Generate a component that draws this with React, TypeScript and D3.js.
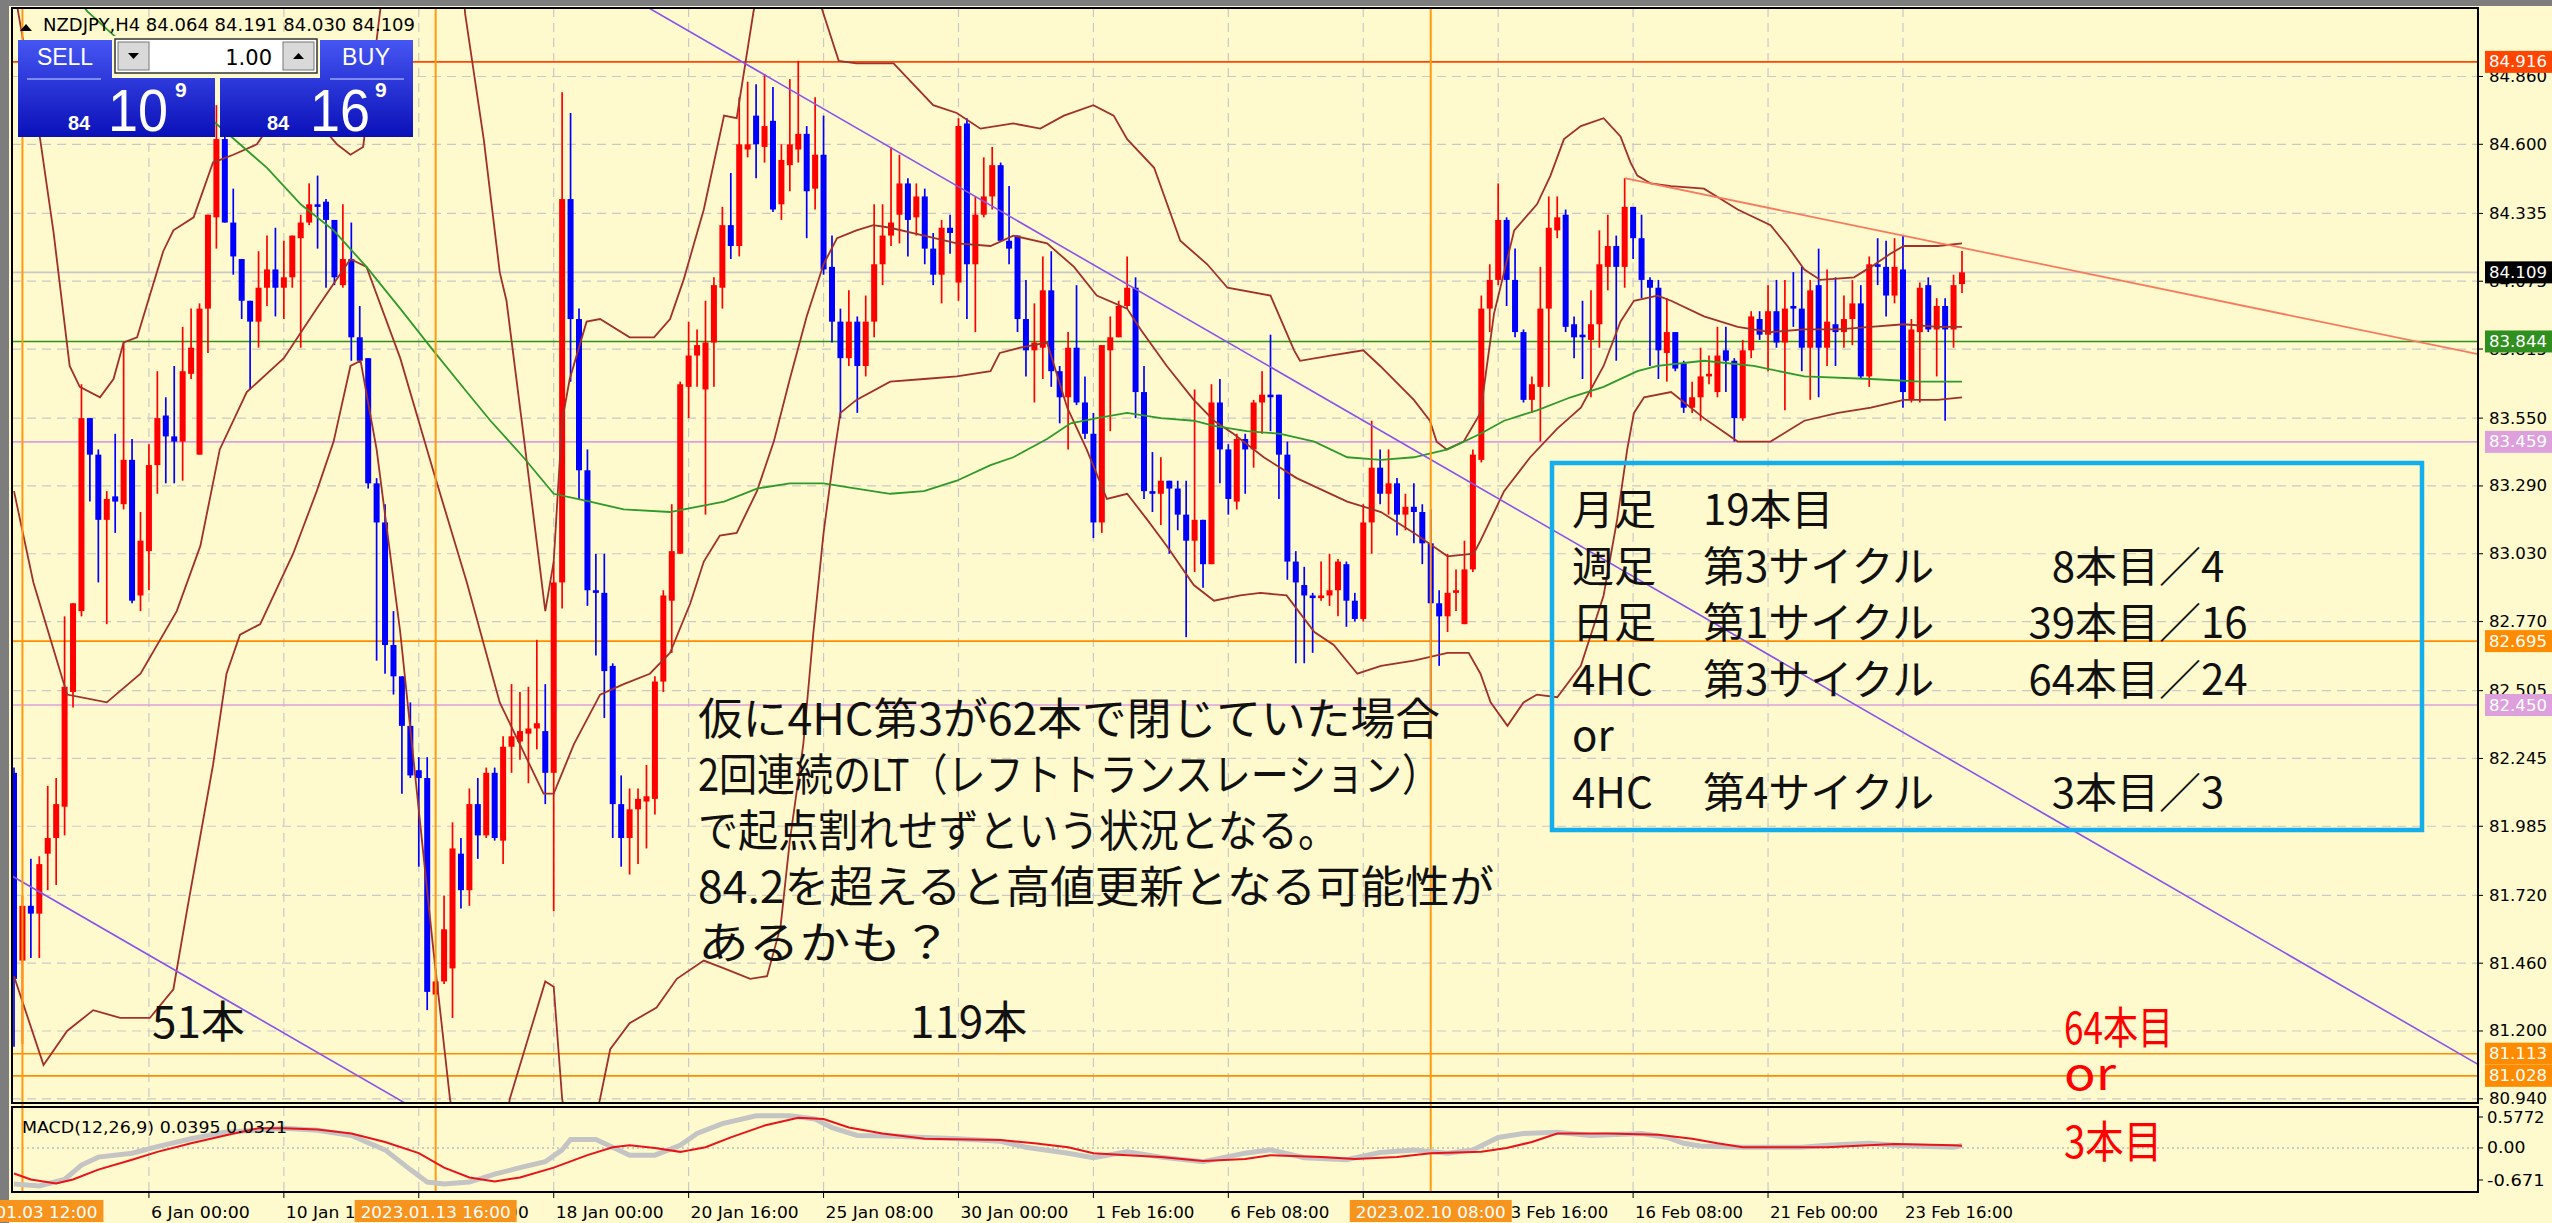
import React, { useRef, useEffect } from "react";
import * as d3 from "d3";

const W = 2552;
const H = 1223;

// NZDJPY H4 bars, left to right
const opens = [
  82.19, 81.47, 81.68, 81.65, 81.88, 81.94, 82.06, 82.5, 82.81, 83.55,
  83.41, 83.16, 83.25, 83.22, 83.39, 82.87, 83.04, 83.37, 83.56, 83.48,
  83.46, 83.72, 83.41, 83.97, 84.32, 84.62, 84.3, 84.16, 84.0, 83.92,
  84.05, 84.12, 84.05, 84.09, 84.24, 84.3, 84.37, 84.38, 84.31, 84.06,
  84.16, 83.86, 83.78, 83.3, 83.15, 82.68, 82.56, 82.37, 82.2, 82.17,
  81.34, 81.39, 81.44, 81.88, 81.74, 82.07, 81.95, 82.19, 81.93, 82.29,
  82.31, 82.34, 82.36, 82.35, 82.19, 82.92, 84.39, 83.93, 83.35, 82.89,
  82.88, 82.6, 82.07, 81.94, 82.05, 82.08, 82.09, 82.54, 82.85, 83.03,
  83.67, 83.79, 83.66, 83.84, 84.05, 84.29, 84.21, 84.58, 84.71, 84.59,
  84.69, 84.37, 84.52, 84.58, 84.64, 84.43, 84.56, 84.13, 83.92, 83.78,
  83.92, 83.75, 83.92, 84.14, 84.25, 84.33, 84.45, 84.32, 84.4, 84.2,
  84.1, 84.28, 84.07, 84.68, 84.14, 84.33, 84.4, 84.52, 84.23, 84.25,
  83.93, 83.81, 83.82, 84.04, 83.73, 83.63, 83.82, 83.61, 83.49, 83.15,
  83.81, 83.86, 83.98, 84.05, 83.65, 83.27, 83.26, 83.31, 83.28, 83.18,
  83.08, 83.16, 82.99, 83.61, 83.43, 83.23, 83.47, 83.43, 83.61, 83.64,
  83.64, 83.41, 83.0, 82.91, 82.87, 82.86, 82.87, 82.89, 82.99, 82.85,
  82.78, 83.15, 83.36, 83.26, 83.3, 83.18, 83.21, 83.19, 83.07, 82.84,
  82.79, 82.88, 82.76, 82.97, 83.39, 83.97, 84.08, 84.31, 84.08, 83.88,
  83.62, 83.67, 83.97, 84.27, 84.33, 83.91, 83.87, 83.85, 83.91, 84.13,
  84.21, 84.13, 84.36, 84.24, 84.08, 84.05, 83.8, 83.88, 83.76, 83.59,
  83.63, 83.71, 83.65, 83.81, 83.77, 83.55, 83.81, 83.93, 83.87, 83.96,
  83.84, 83.98, 83.97, 83.82, 84.06, 83.82, 83.91, 83.88, 83.93, 83.99,
  83.71, 84.14, 84.13, 84.02, 84.12, 83.62, 83.88, 84.06, 83.89, 83.98,
  83.89, 84.064,
];
const highs = [
  82.21, 81.72, 81.86, 81.87, 82.14, 82.17, 82.79, 82.84, 83.68, 83.55,
  83.43, 83.27, 83.49, 83.84, 83.47, 83.19, 83.45, 83.73, 83.63, 83.75,
  83.9, 83.97, 83.99, 84.33, 84.75, 84.66, 84.43, 84.16, 84.0, 84.19,
  84.25, 84.28, 84.23, 84.25, 84.33, 84.45, 84.48, 84.39, 84.31, 84.37,
  84.3, 83.98, 83.78, 83.32, 83.22, 82.81, 82.56, 82.46, 82.25, 82.25,
  81.44, 81.72, 82.0, 81.94, 82.13, 82.17, 82.21, 82.21, 82.33, 82.53,
  82.5, 82.52, 82.7, 82.53, 83.0, 84.8, 84.72, 83.97, 83.43, 83.03,
  83.03, 82.61, 82.18, 82.13, 82.13, 82.22, 82.56, 82.89, 83.22, 83.69,
  83.92, 83.89, 84.0, 84.09, 84.36, 84.49, 84.78, 84.84, 84.83, 84.87,
  84.82, 84.6, 84.85, 84.92, 84.67, 84.78, 84.71, 84.25, 83.97, 84.04,
  83.94, 84.02, 84.37, 84.37, 84.59, 84.56, 84.47, 84.45, 84.43, 84.26,
  84.31, 84.33, 84.7, 84.7, 84.4, 84.55, 84.59, 84.53, 84.44, 84.25,
  84.08, 83.99, 84.17, 84.19, 83.75, 83.88, 84.06, 83.71, 83.57, 83.83,
  83.94, 84.0, 84.17, 84.09, 83.75, 83.42, 83.4, 83.31, 83.31, 83.31,
  83.66, 83.16, 83.68, 83.7, 83.45, 83.49, 83.49, 83.62, 83.73, 83.87,
  83.64, 83.46, 83.04, 82.98, 82.88, 83.0, 83.03, 83.01, 83.0, 82.88,
  83.22, 83.54, 83.43, 83.43, 83.32, 83.26, 83.3, 83.22, 83.2, 82.89,
  83.03, 82.97, 83.08, 83.43, 84.02, 84.14, 84.45, 84.32, 84.2, 83.89,
  83.71, 84.13, 84.4, 84.4, 84.35, 83.94, 84.0, 84.04, 84.27, 84.33,
  84.25, 84.47, 84.36, 84.33, 84.09, 84.08, 84.01, 83.88, 83.77, 83.69,
  83.82, 83.79, 83.9, 83.9, 83.78, 83.85, 83.96, 83.96, 84.06, 84.08,
  84.08, 84.11, 84.13, 84.08, 84.2, 84.12, 84.09, 84.02, 84.08, 84.06,
  84.17, 84.24, 84.23, 84.24, 84.25, 83.93, 84.07, 84.09, 84.01, 84.01,
  84.1, 84.191,
];
const lows = [
  81.14, 81.15, 81.48, 81.48, 81.74, 81.76, 81.95, 82.44, 82.79, 83.23,
  82.92, 82.76, 83.11, 83.2, 82.84, 82.81, 82.89, 83.26, 83.3, 83.3,
  83.31, 83.7, 83.41, 83.8, 84.2, 84.3, 84.1, 83.93, 83.66, 83.82,
  83.98, 83.94, 83.93, 84.05, 83.82, 84.29, 84.2, 84.05, 84.06, 84.05,
  83.77, 83.77, 83.28, 82.62, 82.57, 82.49, 82.11, 82.17, 81.83, 81.28,
  81.12, 81.38, 81.25, 81.67, 81.68, 81.86, 81.94, 81.93, 81.84, 82.19,
  82.24, 82.15, 82.28, 82.07, 81.66, 82.82, 83.69, 83.24, 82.83, 82.64,
  82.4, 81.94, 81.83, 81.8, 81.84, 81.9, 82.03, 82.5, 82.65, 83.03,
  83.55, 83.67, 83.18, 83.67, 83.97, 84.16, 84.17, 84.55, 84.47, 84.53,
  84.34, 84.31, 84.42, 84.53, 84.24, 84.35, 84.1, 83.84, 83.55, 83.75,
  83.57, 83.71, 83.86, 84.06, 84.21, 84.22, 84.17, 84.25, 84.14, 84.06,
  83.99, 84.18, 84.0, 83.93, 83.88, 84.32, 84.35, 84.23, 84.14, 83.88,
  83.71, 83.61, 83.7, 83.67, 83.53, 83.43, 83.6, 83.47, 83.09, 83.11,
  83.5, 83.86, 83.97, 83.55, 83.24, 83.19, 83.14, 83.03, 83.12, 82.71,
  82.96, 82.9, 82.99, 83.3, 83.18, 83.2, 83.26, 83.36, 83.49, 83.5,
  83.24, 82.93, 82.61, 82.61, 82.65, 82.85, 82.83, 82.79, 82.75, 82.77,
  82.77, 83.03, 83.22, 83.18, 83.1, 83.12, 83.07, 82.99, 82.32, 82.6,
  82.73, 82.81, 82.76, 82.96, 83.38, 83.88, 84.06, 83.98, 83.86, 83.61,
  83.57, 83.46, 83.67, 84.24, 83.88, 83.78, 83.7, 83.63, 83.82, 84.04,
  83.77, 84.05, 84.16, 84.01, 83.75, 83.7, 83.69, 83.73, 83.57, 83.57,
  83.54, 83.68, 83.63, 83.65, 83.46, 83.54, 83.78, 83.85, 83.73, 83.82,
  83.58, 83.9, 83.73, 83.62, 83.63, 83.75, 83.75, 83.82, 83.83, 83.7,
  83.67, 84.06, 83.94, 83.99, 83.59, 83.61, 83.61, 83.88, 83.71, 83.54,
  83.82, 84.03,
];
const closes = [
  81.4, 81.68, 81.65, 81.84, 81.94, 82.07, 82.52, 82.84, 83.55, 83.41,
  83.16, 83.24, 83.23, 83.39, 82.85, 83.08, 83.37, 83.55, 83.48, 83.46,
  83.73, 83.82, 83.97, 84.33, 84.62, 84.3, 84.17, 84.0, 83.92, 84.05,
  84.12, 84.05, 84.09, 84.25, 84.3, 84.37, 84.36, 84.31, 84.09, 84.16,
  83.86, 83.77, 83.3, 83.15, 82.68, 82.56, 82.37, 82.18, 82.17, 81.35,
  81.39, 81.59, 81.9, 81.74, 82.07, 81.95, 82.19, 81.94, 82.29, 82.33,
  82.35, 82.36, 82.38, 82.19, 82.92, 84.39, 83.93, 83.35, 82.89, 82.88,
  82.58, 82.07, 81.94, 82.05, 82.09, 82.1, 82.54, 82.87, 83.04, 83.68,
  83.79, 83.83, 83.84, 84.06, 84.29, 84.21, 84.6, 84.6, 84.6, 84.67,
  84.35, 84.54, 84.6, 84.64, 84.42, 84.56, 84.12, 83.92, 83.78, 83.92,
  83.75, 83.92, 84.14, 84.25, 84.3, 84.45, 84.31, 84.4, 84.2, 84.1,
  84.28, 84.26, 84.67, 84.14, 84.33, 84.4, 84.52, 84.23, 84.2, 83.93,
  83.81, 83.84, 84.04, 83.73, 83.63, 83.82, 83.61, 83.49, 83.15, 83.83,
  83.86, 83.98, 84.05, 83.65, 83.27, 83.26, 83.31, 83.28, 83.18, 83.08,
  83.16, 82.99, 83.61, 83.43, 83.24, 83.47, 83.43, 83.61, 83.64, 83.63,
  83.41, 83.0, 82.92, 82.87, 82.86, 82.87, 82.89, 83.0, 82.85, 82.78,
  83.15, 83.36, 83.26, 83.3, 83.18, 83.21, 83.19, 83.07, 82.84, 82.79,
  82.88, 82.89, 82.97, 83.41, 83.97, 84.08, 84.31, 84.08, 83.88, 83.62,
  83.68, 83.97, 84.28, 84.32, 83.9, 83.86, 83.86, 83.91, 84.14, 84.21,
  84.13, 84.36, 84.24, 84.08, 84.05, 83.81, 83.88, 83.74, 83.59, 83.63,
  83.71, 83.72, 83.79, 83.77, 83.55, 83.81, 83.94, 83.87, 83.96, 83.84,
  83.97, 83.97, 83.82, 84.04, 83.82, 83.92, 83.88, 83.93, 83.99, 83.71,
  84.14, 84.13, 84.02, 84.13, 83.65, 83.89, 84.05, 83.89, 83.98, 83.89,
  84.06, 84.109,
];

// indicator lines as [bar, value]
const bbUpper = [
  [0, 85.2], [3.1, 84.62], [4.7, 84.26], [6.6, 83.75], [7.8, 83.67], [10.2, 83.63], [11.8, 83.7],
  [13, 83.84], [14.6, 83.86], [16.1, 84.02], [17.7, 84.19], [18.9, 84.27], [21.3, 84.32],
  [23.6, 84.53], [26, 84.56], [28.8, 84.6], [33, 84.8], [38.3, 84.6], [39.9, 84.56], [41.4, 84.59],
  [43, 85.0], [46, 85.8], [50, 86.0], [52.5, 85.5], [53.5, 85.1], [55.7, 84.62], [57.6, 84.11],
  [58.4, 84.0], [60.4, 83.49], [63, 82.81], [64, 83.0], [65, 83.54], [65.9, 83.7], [67.9, 83.92],
  [69.5, 83.93], [73, 83.86], [75.9, 83.86], [77.8, 83.93], [79.4, 84.08], [81.8, 84.35],
  [84.2, 84.71], [85.7, 84.7], [87.7, 85.11], [90, 85.4], [93, 85.4], [96, 85.1], [97.8, 84.92],
  [99.9, 84.91], [104.3, 84.91], [109, 84.75], [111.8, 84.72], [114.6, 84.66], [118.5, 84.68],
  [121.7, 84.66], [124.5, 84.71], [128, 84.75], [130.4, 84.71], [132, 84.62], [135.2, 84.51],
  [138.3, 84.23], [141.5, 84.14], [143.9, 84.05], [149, 84.02], [151.8, 83.81], [152.5, 83.77],
  [156.1, 83.79], [160, 83.81], [162, 83.75], [166, 83.62], [167.9, 83.54], [168.7, 83.46],
  [169.9, 83.43], [171.9, 83.46], [173.9, 83.57], [175.5, 83.95], [177.9, 84.27], [180.6, 84.37],
  [182.2, 84.48], [183.8, 84.62], [185.8, 84.67], [188.5, 84.7], [190.5, 84.63], [191.7, 84.53],
  [192.5, 84.48], [194.1, 84.45], [196.5, 84.44], [200.4, 84.43], [202.4, 84.39], [204.4, 84.35],
  [208.3, 84.29], [210.3, 84.21], [212.3, 84.12], [214.2, 84.08], [218.2, 84.09], [220.2, 84.13],
  [222.5, 84.18], [224.1, 84.21], [228.1, 84.21], [231, 84.22],
];
const bbMiddle = [
  [0, 83.27], [2.3, 82.92], [6.3, 82.49], [11, 82.46], [15, 82.57], [19.3, 82.81], [22.1, 83.06],
  [24.4, 83.43], [27.6, 83.65], [32, 83.78], [35.9, 83.97], [39.9, 84.16], [41.8, 84.13],
  [45.8, 83.78], [49.7, 83.35], [53.7, 82.92], [57.6, 82.46], [62.8, 82.11], [64, 82.11],
  [66.4, 82.3], [69.5, 82.49], [72.3, 82.53], [75.4, 82.57], [77.8, 82.65], [80.2, 82.84],
  [81.8, 83.0], [83.7, 83.1], [85.7, 83.11], [88.1, 83.27], [90.1, 83.46], [92, 83.7], [94, 83.94],
  [96, 84.14], [97.6, 84.24], [99.9, 84.27], [101.9, 84.29], [103.9, 84.28], [107.9, 84.25],
  [111.8, 84.22], [115.8, 84.21], [118.5, 84.25], [122.5, 84.22], [125.7, 84.13], [128.4, 84.02],
  [132, 83.97], [133.6, 83.89], [136.7, 83.75], [139.9, 83.62], [142.3, 83.54], [144.6, 83.49],
  [148.2, 83.4], [152.1, 83.32], [158.1, 83.23], [162.1, 83.19], [166, 83.11], [170, 83.02],
  [173.1, 83.03], [173.9, 83.08], [176.7, 83.27], [179.8, 83.4], [183, 83.51], [185.8, 83.59],
  [188.5, 83.75], [190.5, 83.92], [192.1, 84.0], [194.9, 84.02], [196.5, 84.0], [200.4, 83.94],
  [204.4, 83.9], [208.3, 83.88], [212.3, 83.89], [216.3, 83.89], [220.2, 83.9], [224.1, 83.91],
  [228.1, 83.9], [231, 83.9],
];
const bbLower = [
  [0, 81.41], [3.5, 81.07], [6.3, 81.2], [9.4, 81.28], [12.6, 81.25], [16.1, 81.25], [18.9, 81.36],
  [20.5, 81.66], [23.6, 82.22], [25.2, 82.57], [26.8, 82.72], [29.2, 82.76], [33.1, 83.03],
  [35.9, 83.27], [37.9, 83.46], [39.9, 83.75], [41.1, 83.77], [43, 83.43], [45.8, 82.73],
  [49.7, 81.52], [51.7, 80.94], [54, 80.5], [57, 80.6], [58.8, 80.94], [63, 81.39], [64, 81.37],
  [65, 80.94], [67, 80.6], [69.5, 80.94], [70.7, 81.13], [73, 81.23], [76.2, 81.29], [78.6, 81.4],
  [81.8, 81.47], [84.2, 81.44], [87.3, 81.4], [89.3, 81.41], [90.9, 81.6], [92, 81.93],
  [93.6, 82.3], [94.8, 82.73], [96, 83.11], [97.2, 83.4], [98, 83.57], [99.9, 83.62],
  [103.9, 83.69], [107.9, 83.7], [111.8, 83.71], [115.8, 83.73], [116.9, 83.8], [119.3, 83.82],
  [122.5, 83.84], [124.9, 83.59], [127.2, 83.43], [129.6, 83.24], [132, 83.26], [134.4, 83.16],
  [136.7, 83.06], [139.9, 82.91], [142.3, 82.85], [145.4, 82.87], [147.8, 82.88], [150.9, 82.87],
  [154.2, 82.73], [156.5, 82.68], [159.3, 82.57], [162.1, 82.6], [166, 82.62], [170, 82.65],
  [172.5, 82.65], [173.9, 82.57], [175.1, 82.46], [177.1, 82.37], [179, 82.46], [180.6, 82.49],
  [183, 82.48], [185.8, 82.6], [188.5, 82.87], [190.1, 83.16], [191.3, 83.43], [192.1, 83.57],
  [193.3, 83.63], [196.5, 83.65], [200.4, 83.55], [204.4, 83.46], [208.3, 83.46], [212.3, 83.54],
  [216.3, 83.57], [220.2, 83.59], [224.1, 83.62], [228.1, 83.62], [231, 83.63],
];
const maGreen = [
  [0, 85.45], [8.7, 85.11], [11.4, 85.03], [26.8, 84.6], [30, 84.51], [34, 84.37], [37.9, 84.27],
  [41.8, 84.13], [45.8, 83.97], [49.7, 83.81], [53.7, 83.65], [56.5, 83.54], [60.4, 83.4],
  [64, 83.26], [68.3, 83.23], [72.3, 83.2], [77.8, 83.19], [84.2, 83.23], [88.1, 83.28], [92, 83.3],
  [96, 83.3], [99.9, 83.28], [103.9, 83.26], [107.9, 83.27], [111.8, 83.31], [115.8, 83.37],
  [118.5, 83.4], [122.5, 83.47], [125.3, 83.53], [128.4, 83.55], [132, 83.57], [136, 83.55],
  [139.9, 83.54], [142.3, 83.52], [146.2, 83.5], [150.2, 83.49], [154.2, 83.46], [158.1, 83.4],
  [162.1, 83.39], [166, 83.4], [170, 83.43], [173.9, 83.49], [176.7, 83.54], [180.6, 83.58],
  [184.6, 83.63], [188.5, 83.67], [192.5, 83.73], [194.9, 83.75], [200.4, 83.77], [206.3, 83.75],
  [212.3, 83.71], [220.2, 83.7], [226.1, 83.69], [231, 83.69],
];
const macdMain = [
  [0, -0.55], [3, -0.58], [6, -0.48], [8, -0.26], [10, -0.14], [14, -0.08], [17, 0.02], [21, 0.14],
  [25, 0.24], [29, 0.27], [32, 0.3], [36, 0.27], [40, 0.19], [44, -0.03], [47, -0.33], [49, -0.52],
  [51, -0.55], [54, -0.52], [57, -0.4], [60, -0.3], [63, -0.21], [65, -0.03], [66, 0.13], [69, 0.13],
  [71, 0.01], [73, -0.11], [76, -0.11], [79, 0.04], [81, 0.22], [84, 0.37], [88, 0.49], [92, 0.49],
  [95, 0.44], [97, 0.31], [100, 0.19], [104, 0.18], [108, 0.16], [112, 0.14], [117, 0.1],
  [120, 0.01], [125, -0.08], [128, -0.15], [132, -0.06], [136, -0.14], [141, -0.21], [146, -0.08],
  [149, -0.03], [153, -0.15], [158, -0.18], [162, -0.07], [166, -0.03], [170, -0.08], [173, -0.03],
  [176, 0.16], [179, 0.22], [183, 0.24], [187, 0.19], [193, 0.22], [196, 0.16], [198, 0.07],
  [200, 0.03], [205, 0.01], [212, 0.01], [215, 0.04], [220, 0.07], [223, 0.04], [230, 0.01],
  [231, 0.0395],
];
const macdSignal = [
  [0, -0.39], [2, -0.48], [5, -0.54], [7, -0.48], [10, -0.33], [14, -0.18], [17, -0.06], [21, 0.07],
  [25, 0.19], [29, 0.3], [32, 0.3], [36, 0.28], [40, 0.22], [44, 0.09], [48, -0.08], [51, -0.3],
  [54, -0.45], [57, -0.51], [60, -0.45], [64, -0.3], [68, -0.11], [71, 0.01], [73, 0.04], [76, 0.0],
  [79, -0.06], [82, 0.01], [85, 0.16], [89, 0.34], [93, 0.46], [96, 0.44], [99, 0.31], [103, 0.22],
  [108, 0.14], [117, 0.12], [121, 0.07], [125, 0.01], [128, -0.08], [132, -0.11], [136, -0.14],
  [141, -0.2], [146, -0.17], [149, -0.11], [155, -0.14], [159, -0.17], [164, -0.14], [168, -0.08],
  [174, -0.06], [177, 0.0], [180, 0.09], [183, 0.22], [189, 0.22], [195, 0.2], [199, 0.14],
  [202, 0.07], [205, 0.01], [215, 0.01], [223, 0.06], [230, 0.04], [231, 0.032],
];

// trend lines: two anchors [bar, price]
const violetUpper = [[75.8, 85.113], [287.8, 81.154]];
const violetLower = [[0, 81.79], [60, 80.669]];
const salmonLine = [[191, 84.47], [224, 84.25]];

const priceTicks = [84.86, 84.6, 84.335, 84.075, 83.815, 83.55, 83.29, 83.03, 82.77, 82.505, 82.245, 81.985, 81.72, 81.46, 81.2, 80.94];
const priceTickLabels = ["84.860", "84.600", "84.335", "84.075", "83.815", "83.550", "83.290", "83.030", "82.770", "82.505", "82.245", "81.985", "81.720", "81.460", "81.200", "80.940"];
const timeTickBars = [16, 32, 48, 64, 80, 96, 112, 128, 144, 160, 176, 192, 208, 224];
const timeTickLabels = ["6 Jan 00:00", "10 Jan 16:00", "13 Jan 08:00", "18 Jan 00:00", "20 Jan 16:00", "25 Jan 08:00", "30 Jan 00:00", "1 Feb 16:00", "6 Feb 08:00", "9 Feb 00:00", "13 Feb 16:00", "16 Feb 08:00", "21 Feb 00:00", "23 Feb 16:00"];
const vlineBars = [1, 50, 168];
const vlineLabels = ["2023.01.03 12:00", "2023.01.13 16:00", "2023.02.10 08:00"];
const levels = [84.916, 83.844, 83.459, 82.695, 82.45, 81.113, 81.028];
const levelLabels = ["84.916", "83.844", "83.459", "82.695", "82.450", "81.113", "81.028"];
const levelColors = ["#FF4500", "#2F8F1F", "#DDA0DD", "#FF8C00", "#DDA0DD", "#FF8C00", "#FF8C00"];
const bidPrice = 84.109;
const macdTicks = [0.5772, 0, -0.671];
const macdTickLabels = ["0.5772", "0.00", "-0.671"];

const noteLines = [
  "仮に4HC第3が62本で閉じていた場合",
  "2回連続のLT（レフトトランスレーション）",
  "で起点割れせずという状況となる。",
  "84.2を超えると高値更新となる可能性が",
  "あるかも？",
];
const boxRows = [
  ["月足", "19本目", "", ""],
  ["週足", "第3サイクル", "8", "本目／4"],
  ["日足", "第1サイクル", "39", "本目／16"],
  ["4HC", "第3サイクル", "64", "本目／24"],
  ["or", "", "", ""],
  ["4HC", "第4サイクル", "3", "本目／3"],
];
const redNotes = ["64本目", "or", "3本目"];

const App = () => {
  const ref = useRef<SVGSVGElement>(null);

  useEffect(() => {
    document.body.style.margin = "0";
    const svg = d3.select(ref.current);
    svg.selectAll("*").remove();

    const L = 12, R = 2478, T = 8, B = 1103;
    const MT = 1107, MB = 1192;
    const bg = "#FFFACD";
    const jp = "'Noto Sans CJK JP', sans-serif";
    const mono = "'DejaVu Sans', sans-serif";

    const x = d3.scaleLinear().domain([0, 231]).range([14, 1962]);
    const y = d3.scaleLinear().domain([80.94, 84.86]).range([1098.8, 76.5]);
    const my = d3.scaleLinear().domain([-0.671, 0.5772]).range([1192, 1110]);

    const defs = svg.append("defs");
    defs.append("clipPath").attr("id", "mainClip")
      .append("rect").attr("x", L).attr("y", T + 1).attr("width", R - L).attr("height", B - T - 1);
    defs.append("clipPath").attr("id", "macdClip")
      .append("rect").attr("x", L).attr("y", MT + 1).attr("width", R - L).attr("height", MB - MT - 1);
    const grad = defs.append("linearGradient").attr("id", "tile")
      .attr("gradientUnits", "userSpaceOnUse").attr("x1", 0).attr("x2", 0).attr("y1", 40).attr("y2", 137);
    grad.append("stop").attr("offset", 0).attr("stop-color", "#4656F2");
    grad.append("stop").attr("offset", 1).attr("stop-color", "#0A10B8");

    // background and frame
    svg.append("rect").attr("width", W).attr("height", H).attr("fill", bg);
    svg.append("rect").attr("width", 9).attr("height", H).attr("fill", "#7d7d7d");
    svg.append("rect").attr("width", W).attr("height", 6).attr("fill", "#7d7d7d");

    // grid
    const grid = svg.append("g").attr("stroke", "#C9C9C9").attr("stroke-width", 1.2).attr("stroke-dasharray", "9,6");
    priceTicks.forEach((p) => {
      grid.append("line").attr("x1", L).attr("x2", R).attr("y1", y(p)).attr("y2", y(p));
    });
    timeTickBars.forEach((b) => {
      grid.append("line").attr("x1", x(b)).attr("x2", x(b)).attr("y1", T).attr("y2", B);
      grid.append("line").attr("x1", x(b)).attr("x2", x(b)).attr("y1", MT).attr("y2", MB);
    });
    svg.append("line").attr("x1", L).attr("x2", R).attr("y1", my(0)).attr("y2", my(0))
      .attr("stroke", "#BDBDBD").attr("stroke-width", 1.5).attr("stroke-dasharray", "2,3");

    const main = svg.append("g").attr("clip-path", "url(#mainClip)");

    // horizontal levels
    levels.forEach((p, i) => {
      main.append("line").attr("x1", L).attr("x2", R).attr("y1", y(p)).attr("y2", y(p))
        .attr("stroke", levelColors[i]).attr("stroke-width", 1.6);
    });
    main.append("line").attr("x1", L).attr("x2", R).attr("y1", y(bidPrice)).attr("y2", y(bidPrice))
      .attr("stroke", "#C8C8C8").attr("stroke-width", 1.6);

    // vertical markers
    vlineBars.forEach((b) => {
      svg.append("line").attr("x1", x(b)).attr("x2", x(b)).attr("y1", T).attr("y2", MB)
        .attr("stroke", "#FF9A10").attr("stroke-width", 2);
    });

    // candles
    const candles = main.append("g");
    closes.forEach((c, i) => {
      const o = opens[i];
      const col = c >= o ? "#FF0000" : "#0000FF";
      const cx = x(i);
      candles.append("line").attr("x1", cx).attr("x2", cx)
        .attr("y1", y(highs[i])).attr("y2", y(lows[i]))
        .attr("stroke", col).attr("stroke-width", 1.7);
      const top = y(Math.max(o, c));
      const h = Math.max(1.5, Math.abs(y(o) - y(c)));
      candles.append("rect").attr("x", cx - 3).attr("y", top).attr("width", 6).attr("height", h)
        .attr("fill", col);
    });

    // indicators
    const line = d3.line<number[]>().x((d) => x(d[0])).y((d) => y(d[1]));
    [bbUpper, bbMiddle, bbLower].forEach((s) => {
      main.append("path").attr("d", line(s)).attr("fill", "none")
        .attr("stroke", "#A0302A").attr("stroke-width", 1.8);
    });
    main.append("path").attr("d", line(maGreen)).attr("fill", "none")
      .attr("stroke", "#2E9A2A").attr("stroke-width", 1.8);

    // trend lines
    const trend = (pts: number[][], b0: number, b1: number) => {
      const k = (pts[1][1] - pts[0][1]) / (pts[1][0] - pts[0][0]);
      const at = (b: number) => pts[0][1] + k * (b - pts[0][0]);
      return [[b0, at(b0)], [b1, at(b1)]];
    };
    const rightBar = x.invert(R);
    const leftBar = x.invert(L);
    main.append("path").attr("d", line(trend(violetUpper, leftBar, rightBar)))
      .attr("stroke", "#8A52E8").attr("stroke-width", 1.6).attr("fill", "none");
    main.append("path").attr("d", line(trend(violetLower, leftBar, rightBar)))
      .attr("stroke", "#8A52E8").attr("stroke-width", 1.6).attr("fill", "none");
    main.append("path").attr("d", line(trend(salmonLine, salmonLine[0][0], rightBar)))
      .attr("stroke", "#F77A5E").attr("stroke-width", 1.8).attr("fill", "none");

    // MACD pane
    const macd = svg.append("g").attr("clip-path", "url(#macdClip)");
    const mline = d3.line<number[]>().x((d) => x(d[0])).y((d) => my(d[1]));
    macd.append("path").attr("d", mline(macdMain)).attr("fill", "none")
      .attr("stroke", "#C4C4C4").attr("stroke-width", 5);
    macd.append("path").attr("d", mline(macdSignal)).attr("fill", "none")
      .attr("stroke", "#E8141A").attr("stroke-width", 2);
    svg.append("text").attr("x", 22).attr("y", 1133).attr("font-family", mono).attr("font-size", 15)
      .attr("textLength", 265).attr("lengthAdjust", "spacingAndGlyphs")
      .text("MACD(12,26,9) 0.0395 0.0321");

    // pane borders
    const border = svg.append("g").attr("stroke", "#000").attr("fill", "none");
    border.append("rect").attr("x", L).attr("y", T).attr("width", R - L).attr("height", B - T).attr("stroke-width", 2);
    border.append("rect").attr("x", L).attr("y", MT).attr("width", R - L).attr("height", MB - MT).attr("stroke-width", 2);

    // price axis
    const axis = svg.append("g").attr("font-family", mono).attr("font-size", 15);
    priceTicks.forEach((p, i) => {
      axis.append("line").attr("x1", R).attr("x2", R + 5).attr("y1", y(p)).attr("y2", y(p)).attr("stroke", "#000");
      axis.append("text").attr("x", 2489).attr("y", y(p) + 5.5).attr("textLength", 58)
        .attr("lengthAdjust", "spacingAndGlyphs").text(priceTickLabels[i]);
    });
    const tagged = [...levels.map((p, i) => [p, levelColors[i], levelLabels[i]]), [bidPrice, "#000", "84.109"]];
    tagged.forEach(([p, c, t]) => {
      const yy = y(p as number);
      axis.append("rect").attr("x", 2485).attr("y", yy - 11).attr("width", 70).attr("height", 22).attr("fill", c as string);
      axis.append("text").attr("x", 2489).attr("y", yy + 5.5).attr("fill", "#fff").attr("textLength", 58)
        .attr("lengthAdjust", "spacingAndGlyphs").text(t as string);
    });
    macdTicks.forEach((v, i) => {
      const yy = Math.min(Math.max(my(v), 1117), 1180);
      axis.append("line").attr("x1", R).attr("x2", R + 5).attr("y1", yy).attr("y2", yy).attr("stroke", "#000");
      axis.append("text").attr("x", 2487).attr("y", yy + 5.5)
        .attr("textLength", macdTickLabels[i].length * 9.6).attr("lengthAdjust", "spacingAndGlyphs")
        .text(macdTickLabels[i]);
    });

    // time axis
    timeTickBars.forEach((b, i) => {
      axis.append("line").attr("x1", x(b)).attr("x2", x(b)).attr("y1", MB).attr("y2", MB + 6).attr("stroke", "#000");
      axis.append("text").attr("x", x(b) + 2).attr("y", 1218)
        .attr("textLength", timeTickLabels[i].length * 9).attr("lengthAdjust", "spacingAndGlyphs")
        .text(timeTickLabels[i]);
    });
    vlineBars.forEach((b, i) => {
      axis.append("rect").attr("x", x(b) - 81).attr("y", 1200).attr("width", 162).attr("height", 22).attr("fill", "#F7941D");
      axis.append("text").attr("x", x(b)).attr("y", 1218).attr("fill", "#fff").attr("text-anchor", "middle")
        .attr("textLength", 150).attr("lengthAdjust", "spacingAndGlyphs").text(vlineLabels[i]);
    });

    // annotations
    const notes = svg.append("g").attr("font-family", jp).attr("font-size", 44).attr("fill", "#111");
    const noteWidths = [742, 742, 640, 796, 254];
    noteLines.forEach((t, i) => {
      notes.append("text").attr("x", 698).attr("y", 735 + i * 56)
        .attr("textLength", noteWidths[i]).attr("lengthAdjust", "spacingAndGlyphs").text(t);
    });
    notes.append("text").attr("x", 152).attr("y", 1038).text("51本");
    notes.append("text").attr("x", 910).attr("y", 1038).text("119本");

    svg.append("rect").attr("x", 1552).attr("y", 463).attr("width", 870).attr("height", 367)
      .attr("fill", "none").attr("stroke", "#14AEEA").attr("stroke-width", 4.5);
    const box = svg.append("g").attr("font-family", jp).attr("font-size", 42).attr("fill", "#111");
    boxRows.forEach((r, i) => {
      const yy = 525 + i * 56.6;
      box.append("text").attr("x", 1572).attr("y", yy).text(r[0]);
      if (r[1]) box.append("text").attr("x", 1703).attr("y", yy).text(r[1]);
      if (r[2]) box.append("text").attr("x", 2075).attr("y", yy).attr("text-anchor", "end").text(r[2]);
      if (r[3]) box.append("text").attr("x", 2075).attr("y", yy).text(r[3]);
    });

    const red = svg.append("g").attr("font-family", jp).attr("font-size", 44).attr("fill", "#FF0000");
    const redW = [109, 52, 98];
    const redY = [1044, 1090, 1158];
    redNotes.forEach((t, i) => {
      red.append("text").attr("x", 2064).attr("y", redY[i]).attr("textLength", redW[i])
        .attr("lengthAdjust", "spacingAndGlyphs").text(t);
    });

    // header
    svg.append("path").attr("d", "M20,31 L32,31 L26,24 Z").attr("fill", "#000");
    svg.append("text").attr("x", 43).attr("y", 31).attr("font-family", mono).attr("font-size", 17)
      .attr("textLength", 372).attr("lengthAdjust", "spacingAndGlyphs")
      .text("NZDJPY,H4  84.064 84.191 84.030 84.109");

    // one-click trading panel
    const panel = svg.append("g");
    panel.append("rect").attr("x", 18).attr("y", 40).attr("width", 197).attr("height", 97).attr("fill", "url(#tile)");
    panel.append("rect").attr("x", 220).attr("y", 40).attr("width", 193).attr("height", 97).attr("fill", "url(#tile)");
    panel.append("rect").attr("x", 112).attr("y", 36).attr("width", 208).attr("height", 42).attr("fill", bg);
    panel.append("rect").attr("x", 115).attr("y", 39).attr("width", 202).attr("height", 34)
      .attr("fill", "#fff").attr("stroke", "#333").attr("stroke-width", 1.5);
    panel.append("rect").attr("x", 118).attr("y", 42).attr("width", 31).attr("height", 28).attr("fill", "#D9D9D9").attr("stroke", "#777");
    panel.append("rect").attr("x", 283).attr("y", 42).attr("width", 31).attr("height", 28).attr("fill", "#D9D9D9").attr("stroke", "#777");
    panel.append("path").attr("d", "M128,53 L139,53 L133.5,59 Z").attr("fill", "#000");
    panel.append("path").attr("d", "M293,59 L304,59 L298.5,53 Z").attr("fill", "#000");
    panel.append("text").attr("x", 272).attr("y", 65).attr("text-anchor", "end")
      .attr("font-family", mono).attr("font-size", 21).text("1.00");
    panel.append("line").attr("x1", 27).attr("x2", 101).attr("y1", 79).attr("y2", 79).attr("stroke", "#9AA6FF").attr("stroke-width", 1.5);
    panel.append("line").attr("x1", 330).attr("x2", 404).attr("y1", 79).attr("y2", 79).attr("stroke", "#9AA6FF").attr("stroke-width", 1.5);
    const tiles = panel.append("g").attr("fill", "#fff").attr("font-family", "'Liberation Sans', sans-serif");
    tiles.append("text").attr("x", 37).attr("y", 65).attr("font-size", 23).attr("textLength", 56).text("SELL");
    tiles.append("text").attr("x", 342).attr("y", 65).attr("font-size", 23).attr("textLength", 48).text("BUY");
    [[68, 108, 175, "10"], [267, 310, 375, "16"]].forEach(([a, b, c, big]) => {
      tiles.append("text").attr("x", a).attr("y", 130).attr("font-size", 20).attr("font-weight", "bold").text("84");
      tiles.append("text").attr("x", b).attr("y", 131).attr("font-size", 59).attr("textLength", 60)
        .attr("lengthAdjust", "spacingAndGlyphs").text(big as string);
      tiles.append("text").attr("x", c).attr("y", 97).attr("font-size", 21).attr("font-weight", "bold").text("9");
    });
  }, []);

  return <svg ref={ref} width={W} height={H} style={{ display: "block" }} />;
};

export default App;
